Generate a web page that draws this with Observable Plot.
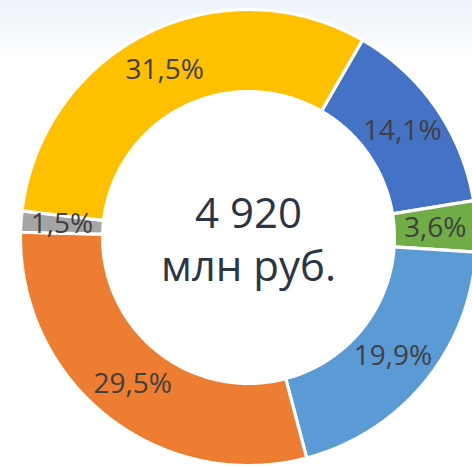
<!DOCTYPE html>
<html><head><meta charset="utf-8">
<script src="https://cdn.jsdelivr.net/npm/d3@7"></script>
<script src="https://cdn.jsdelivr.net/npm/@observablehq/plot@0.6"></script>
<style>
html,body{margin:0;padding:0;width:472px;height:466px;overflow:hidden;
  background:linear-gradient(to bottom,#eef4fa 0px,#f4f8fc 30px,#ffffff 62px);}
#chart{width:472px;height:466px;}
</style></head><body><div id="chart"></div>
<script>
// ---- data ----
const categories = ["Категория 1", "Категория 2", "Категория 3", "Категория 4", "Категория 5", "Категория 6"];
const values = [14.1, 3.6, 19.9, 29.5, 1.5, 31.5];
const totalLines = ["4 920", "млн руб."];

// ---- styles / layout ----
const colors = ["#4472C4", "#70AD47", "#5B9BD5", "#ED7D31", "#A5A5A5", "#FFC000"];
const W = 472, H = 466, CX = 248, CY = 237, R = 228;
const INNER = 0.64;
const START = 30 * Math.PI / 180;

const pie = d3.pie().sort(null).value(d => d.value)
  .startAngle(START).endAngle(START + 2 * Math.PI);
const arcs = pie(categories.map((c, i) => ({cat: c, value: values[i]})));

const ring = [];
for (const a of arcs) {
  const n = Math.max(4, Math.ceil((a.endAngle - a.startAngle) / 0.01));
  for (let k = 0; k <= n; k++) {
    const t = a.startAngle + (a.endAngle - a.startAngle) * k / n;
    ring.push({cat: a.data.cat, x: Math.sin(t), y: Math.cos(t)});
  }
  for (let k = n; k >= 0; k--) {
    const t = a.startAngle + (a.endAngle - a.startAngle) * k / n;
    ring.push({cat: a.data.cat, x: INNER * Math.sin(t), y: INNER * Math.cos(t)});
  }
}
const mid = (1 + INNER) / 2;
const labels = arcs.map(a => {
  const t = (a.startAngle + a.endAngle) / 2;
  return {x: mid * Math.sin(t), y: mid * Math.cos(t),
          text: a.data.value.toFixed(1).replace(".", ",") + "%"};
});

const chart = Plot.plot({
  width: W, height: H,
  margin: 0,
  style: {background: "transparent", fontFamily: "'Open Sans', sans-serif", overflow: "hidden"},
  x: {domain: [-CX / R, (W - CX) / R], axis: null},
  y: {domain: [-(H - CY) / R, CY / R], axis: null},
  color: {domain: categories, range: colors},
  marks: [
    Plot.line(ring, {x: "x", y: "y", z: "cat", fill: "cat", stroke: "white",
                     strokeWidth: 3.2, strokeLinejoin: "miter", curve: "linear-closed"}),
    Plot.text(labels, {x: "x", y: "y", text: "text", fontSize: 28, fill: "#404040"}),
    Plot.text([totalLines.join("\n")], {x: () => 0, y: () => 0, text: d => d,
               fontSize: 42, lineHeight: 1.26, fill: "#2B3544"})
  ]
});
document.getElementById("chart").appendChild(chart);
</script>
</body></html>
